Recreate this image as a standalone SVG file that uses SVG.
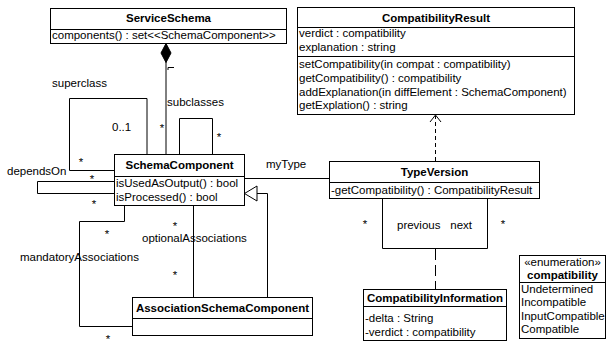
<svg xmlns="http://www.w3.org/2000/svg" width="606" height="345" viewBox="0 0 606 345">
<style>
text{font-family:"Liberation Sans",Arial,sans-serif;font-size:11.5px;fill:#000}
.b{font-weight:bold}
.m{text-anchor:middle}
.e{text-anchor:end}
.box{fill:#fff;stroke:#000;stroke-width:1}
.ln{fill:none;stroke:#000;stroke-width:1}
.dep{fill:none;stroke:#000;stroke-width:1;stroke-dasharray:4,3}
.ac{fill:none;stroke:#000;stroke-width:1;stroke-dasharray:11,5}
</style>
<rect width="606" height="345" fill="#fff"/>
<g id="connectors">
  <path class="ln" d="M166,62 V154.5"/>
  <polygon points="166,43.5 171,53 166,62.5 161,53" fill="#000" stroke="#000" stroke-width="1"/>
  <path class="ln" d="M168,70 V67.5 H174"/>
  <path class="ln" d="M147,154.5 V98.5 H69.5 V170.5 H114.5"/>
  <path class="ln" d="M179.5,154.5 V118.5 H212.5 V154.5"/>
  <path class="ln" d="M114.5,181.5 H37.5 V193.5 H114.5"/>
  <path class="ln" d="M244.5,178.5 H329.5"/>
  <path class="ln" d="M257,193.5 H267.5 V297.5"/>
  <polygon points="244.5,193.5 257,186 257,201" fill="#fff" stroke="#000" stroke-width="1"/>
  <path class="ln" d="M193.5,205.5 V297.5"/>
  <path class="ln" d="M124.5,205.5 V221.5 H79.5 V326.5 H132.5"/>
  <path class="dep" d="M435.5,161 V116"/>
  <path class="ln" d="M430,122 L435.5,115 L441,122"/>
  <path class="ln" d="M382.5,198.5 V248.5 H487.5 V198.5"/>
  <path class="ac" d="M435.5,249 V289.5"/>
  <text x="162" y="132" class="m">*</text>
  <text x="52" y="87">superclass</text>
  <text x="167" y="106">subclasses</text>
  <text x="219" y="141" class="m">*</text>
  <text x="112" y="131">0..1</text>
  <text x="81" y="166" class="m">*</text>
  <text x="7" y="175">dependsOn</text>
  <text x="92" y="183" class="m">*</text>
  <text x="94" y="208" class="m">*</text>
  <text x="266" y="168">myType</text>
  <text x="107" y="238" class="m">*</text>
  <text x="175" y="229.5" class="m">*</text>
  <text x="142" y="242">optionalAssociations</text>
  <text x="175" y="279" class="m">*</text>
  <text x="20" y="261">mandatoryAssociations</text>
  <text x="108" y="343" class="m">*</text>
  <text x="365" y="228" class="m">*</text>
  <text x="503" y="228" class="m">*</text>
  <text x="397" y="229">previous</text>
  <text x="472" y="229" class="e">next</text>
</g>
<g id="ServiceSchema">
  <rect class="box" x="50.5" y="8.5" width="236" height="35"/>
  <path class="ln" d="M50.5,29.5 H286.5"/>
  <text x="168.5" y="22" class="b m">ServiceSchema</text>
  <text x="52" y="39">components() : set&lt;&lt;SchemaComponent&gt;&gt;</text>
</g>
<g id="CompatibilityResult">
  <rect class="box" x="297.5" y="7.5" width="277" height="107"/>
  <path class="ln" d="M297.5,27.5 H574.5 M297.5,56.5 H574.5"/>
  <text x="436" y="21.5" class="b m">CompatibilityResult</text>
  <text x="299" y="37">verdict : compatibility</text>
  <text x="299" y="51">explanation : string</text>
  <text x="299" y="68">setCompatibility(in compat : compatibility)</text>
  <text x="299" y="82">getCompatibility() : compatibility</text>
  <text x="299" y="95.5">addExplanation(in diffElement : SchemaComponent)</text>
  <text x="299" y="109">getExplation() : string</text>
</g>
<g id="SchemaComponent">
  <rect class="box" x="114.5" y="154.5" width="130" height="51"/>
  <path class="ln" d="M114.5,176.5 H244.5"/>
  <text x="179.5" y="169" class="b m">SchemaComponent</text>
  <text x="116" y="187">isUsedAsOutput() : bool</text>
  <text x="116" y="201">isProcessed() : bool</text>
</g>
<g id="TypeVersion">
  <rect class="box" x="329.5" y="161.5" width="210" height="37"/>
  <path class="ln" d="M329.5,182.5 H539.5"/>
  <text x="434.5" y="176" class="b m">TypeVersion</text>
  <text x="331" y="194">-getCompatibility() : CompatibilityResult</text>
</g>
<g id="AssociationSchemaComponent">
  <rect class="box" x="132.5" y="297.5" width="180" height="38"/>
  <path class="ln" d="M132.5,318.5 H312.5"/>
  <text x="222.5" y="312" class="b m">AssociationSchemaComponent</text>
</g>
<g id="CompatibilityInformation">
  <rect class="box" x="363.5" y="289.5" width="143" height="51"/>
  <path class="ln" d="M363.5,306.5 H506.5"/>
  <text x="435" y="302" class="b m">CompatibilityInformation</text>
  <text x="365" y="322">-delta : String</text>
  <text x="365" y="336">-verdict : compatibility</text>
</g>
<g id="compatibility">
  <rect class="box" x="519.5" y="255.5" width="86" height="83"/>
  <path class="ln" d="M519.5,282.5 H605.5"/>
  <text x="562.5" y="266" class="m">«enumeration»</text>
  <text x="562.5" y="279" class="b m">compatibility</text>
  <text x="521" y="293">Undetermined</text>
  <text x="521" y="306">Incompatible</text>
  <text x="521" y="319.5">InputCompatible</text>
  <text x="521" y="333">Compatible</text>
</g>
</svg>
